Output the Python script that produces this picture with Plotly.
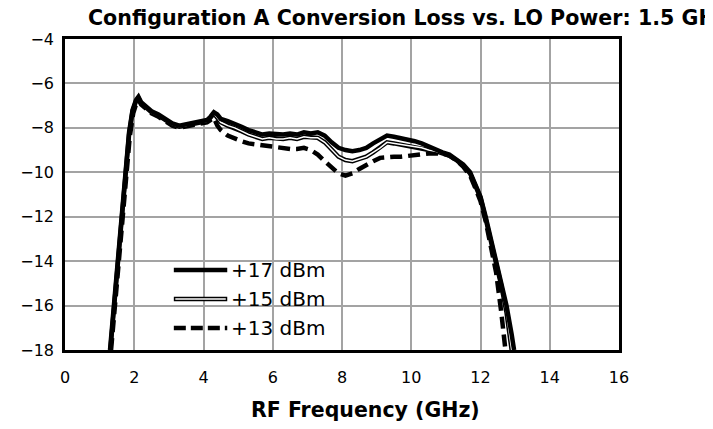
import plotly.graph_objects as go

# ---------------- data ----------------
freq_17 = [1.30, 1.45, 1.60, 1.75, 1.85, 1.95, 2.05, 2.12, 2.20, 2.35, 2.50, 2.70, 2.90, 3.10,
           3.30, 3.50, 3.70, 3.90, 4.10, 4.20, 4.30, 4.40, 4.50, 4.70, 4.90, 5.10, 5.30, 5.50,
           5.70, 5.90, 6.10, 6.30, 6.50, 6.70, 6.90, 7.10, 7.30, 7.50, 7.70, 7.90, 8.10, 8.30,
           8.50, 8.70, 8.90, 9.10, 9.30, 9.50, 9.70, 9.90, 10.10, 10.30, 10.50, 10.70, 10.90,
           11.10, 11.30, 11.50, 11.70, 11.85, 12.00, 12.15, 12.30, 12.45, 12.60, 12.75, 12.90, 12.97]
loss_17 = [-18.0, -15.4, -12.6, -9.8, -8.2, -7.2, -6.75, -6.6, -6.85, -7.05, -7.25, -7.4, -7.6, -7.8,
           -7.9, -7.85, -7.75, -7.7, -7.65, -7.5, -7.3, -7.4, -7.6, -7.7, -7.8, -7.95, -8.1, -8.2,
           -8.3, -8.25, -8.3, -8.3, -8.25, -8.3, -8.2, -8.25, -8.2, -8.35, -8.65, -8.9, -9.0, -9.05,
           -9.0, -8.9, -8.7, -8.55, -8.35, -8.4, -8.45, -8.5, -8.6, -8.7, -8.85, -8.95, -9.1,
           -9.2, -9.4, -9.65, -10.0, -10.5, -11.1, -12.0, -13.0, -13.9, -14.9, -16.0, -17.3, -18.0]

freq_15 = [1.31, 1.45, 1.60, 1.75, 1.85, 1.95, 2.05, 2.12, 2.20, 2.35, 2.50, 2.70, 2.90, 3.10,
           3.30, 3.50, 3.70, 3.90, 4.10, 4.20, 4.30, 4.40, 4.50, 4.70, 4.90, 5.10, 5.30, 5.50,
           5.70, 5.90, 6.10, 6.30, 6.50, 6.70, 6.90, 7.10, 7.30, 7.50, 7.70, 7.90, 8.10, 8.30,
           8.50, 8.70, 8.90, 9.10, 9.30, 9.50, 9.70, 9.90, 10.10, 10.30, 10.50, 10.70, 10.90,
           11.10, 11.30, 11.50, 11.70, 11.85, 12.00, 12.15, 12.30, 12.45, 12.60, 12.75, 12.90]
loss_15 = [-18.0, -15.6, -12.8, -10.0, -8.3, -7.25, -6.8, -6.65, -6.9, -7.1, -7.3, -7.45, -7.65, -7.85,
           -7.95, -7.9, -7.8, -7.75, -7.7, -7.55, -7.35, -7.55, -7.75, -7.9, -8.0, -8.15, -8.3, -8.4,
           -8.5, -8.45, -8.5, -8.5, -8.45, -8.5, -8.4, -8.45, -8.45, -8.65, -9.0, -9.3, -9.45, -9.5,
           -9.4, -9.3, -9.1, -8.9, -8.65, -8.7, -8.75, -8.8, -8.85, -8.9, -9.0, -9.05, -9.15,
           -9.25, -9.45, -9.7, -10.05, -10.55, -11.15, -12.1, -13.1, -14.05, -15.1, -16.3, -18.0]

freq_13 = [1.33, 1.47, 1.62, 1.77, 1.87, 1.97, 2.06, 2.13, 2.20, 2.35, 2.50, 2.70, 2.90, 3.10,
           3.30, 3.50, 3.70, 3.90, 4.10, 4.20, 4.30, 4.40, 4.50, 4.70, 4.90, 5.10, 5.30, 5.50,
           5.70, 5.90, 6.10, 6.30, 6.50, 6.70, 6.90, 7.10, 7.30, 7.50, 7.70, 7.90, 8.10, 8.30,
           8.50, 8.70, 8.90, 9.10, 9.30, 9.50, 9.70, 9.90, 10.10, 10.30, 10.50, 10.70, 10.90,
           11.10, 11.30, 11.50, 11.70, 11.85, 12.00, 12.15, 12.30, 12.45, 12.60, 12.72]
loss_13 = [-18.0, -15.6, -12.8, -10.0, -8.4, -7.35, -6.9, -6.75, -6.95, -7.15, -7.35, -7.5, -7.7, -7.9,
           -8.0, -7.95, -7.85, -7.8, -7.75, -7.65, -7.55, -7.9, -8.1, -8.35, -8.5, -8.6, -8.7, -8.75,
           -8.8, -8.85, -8.9, -8.9, -8.95, -8.95, -8.9, -9.0, -9.2, -9.5, -9.8, -10.05, -10.15, -10.05,
           -9.85, -9.65, -9.5, -9.35, -9.3, -9.3, -9.3, -9.25, -9.25, -9.2, -9.15, -9.15, -9.15,
           -9.25, -9.45, -9.75, -10.15, -10.7, -11.3, -12.2, -13.3, -14.5, -16.3, -18.0]

legend_labels = ["+17 dBm", "+15 dBm", "+13 dBm"]
title_text = "Configuration A Conversion Loss vs. LO Power: 1.5 GHz IF"
x_title = "RF Frequency (GHz)"

# ---------------- figure ----------------
fig = go.Figure()
LW = 4.5
fig.add_trace(go.Scatter(x=freq_13, y=loss_13, mode="lines", name=legend_labels[2],
                         line=dict(color="black", width=LW, dash="12px,6px"), showlegend=False))
fig.add_trace(go.Scatter(x=freq_15, y=loss_15, mode="lines", name=legend_labels[1],
                         line=dict(color="black", width=LW), showlegend=False))
fig.add_trace(go.Scatter(x=freq_15, y=loss_15, mode="lines", name=legend_labels[1] + " core",
                         line=dict(color="white", width=1.5), showlegend=False))
fig.add_trace(go.Scatter(x=freq_17, y=loss_17, mode="lines", name=legend_labels[0],
                         line=dict(color="black", width=LW), showlegend=False))

# page is offset by the 8px body margin; work in page pixels and subtract it
OFF = 8
L, R, T, B = 59 - OFF, 619 - OFF, 39 - OFF, 350 - OFF
def px(xp): return (xp - OFF - L) / (R - L)
def py(yp): return (B - (yp - OFF)) / (B - T)

leg_y = [270, 299, 328]
x0, x1 = px(169), px(223)
shapes = []
shapes.append(dict(type="line", xref="paper", yref="paper", x0=x0, x1=x1, y0=py(leg_y[0]), y1=py(leg_y[0]),
                   line=dict(color="black", width=LW)))
shapes.append(dict(type="line", xref="paper", yref="paper", x0=x0, x1=x1, y0=py(leg_y[1]), y1=py(leg_y[1]),
                   line=dict(color="black", width=LW)))
shapes.append(dict(type="line", xref="paper", yref="paper", x0=px(170.5), x1=px(221.5), y0=py(leg_y[1]), y1=py(leg_y[1]),
                   line=dict(color="white", width=1.5)))
shapes.append(dict(type="line", xref="paper", yref="paper", x0=x0, x1=x1, y0=py(leg_y[2]), y1=py(leg_y[2]),
                   line=dict(color="black", width=LW, dash="12px,5px")))
annotations = []
for lab, yy in zip(legend_labels, leg_y):
    annotations.append(dict(xref="paper", yref="paper", x=px(225), y=py(yy), xanchor="left", yanchor="middle",
                            text=lab, showarrow=False,
                            font=dict(family="DejaVu Sans", size=20, color="black")))
# x-axis title (centred on the chart area rather than the plot area, as in the reference)
annotations.append(dict(xref="paper", yref="paper", x=px(363), y=py(410), xanchor="center", yanchor="middle",
                        text="<b>" + x_title + "</b>", showarrow=False,
                        font=dict(family="DejaVu Sans", size=20.5, color="black")))

fig.update_layout(
    width=713, height=429,
    margin=dict(l=L, r=713 - R, t=T, b=429 - B),
    paper_bgcolor="white", plot_bgcolor="white",
    font=dict(family="DejaVu Sans", size=16, color="black"),
    title=dict(text="<b>" + title_text + "</b>", x=(88 - OFF) / 713, xanchor="left", xref="container",
               y=1 - (18 - OFF) / 429, yanchor="middle", yref="container",
               font=dict(family="DejaVu Sans", size=20.6, color="black")),
    shapes=shapes, annotations=annotations,
    showlegend=False,
)
fig.update_xaxes(range=[0, 16], dtick=2, tick0=0, showgrid=True, gridcolor="#a3a3a3", gridwidth=1.5,
                 showline=True, linecolor="black", linewidth=2.5, mirror=True, ticks="",
                 zeroline=False, ticklabelstandoff=11)
fig.update_yaxes(range=[-18, -4], dtick=2, tick0=-18, showgrid=True, gridcolor="#a3a3a3", gridwidth=1.5,
                 showline=True, linecolor="black", linewidth=2.5, mirror=True, ticks="",
                 zeroline=False, ticklabelstandoff=5)

fig.write_html("out.html")
